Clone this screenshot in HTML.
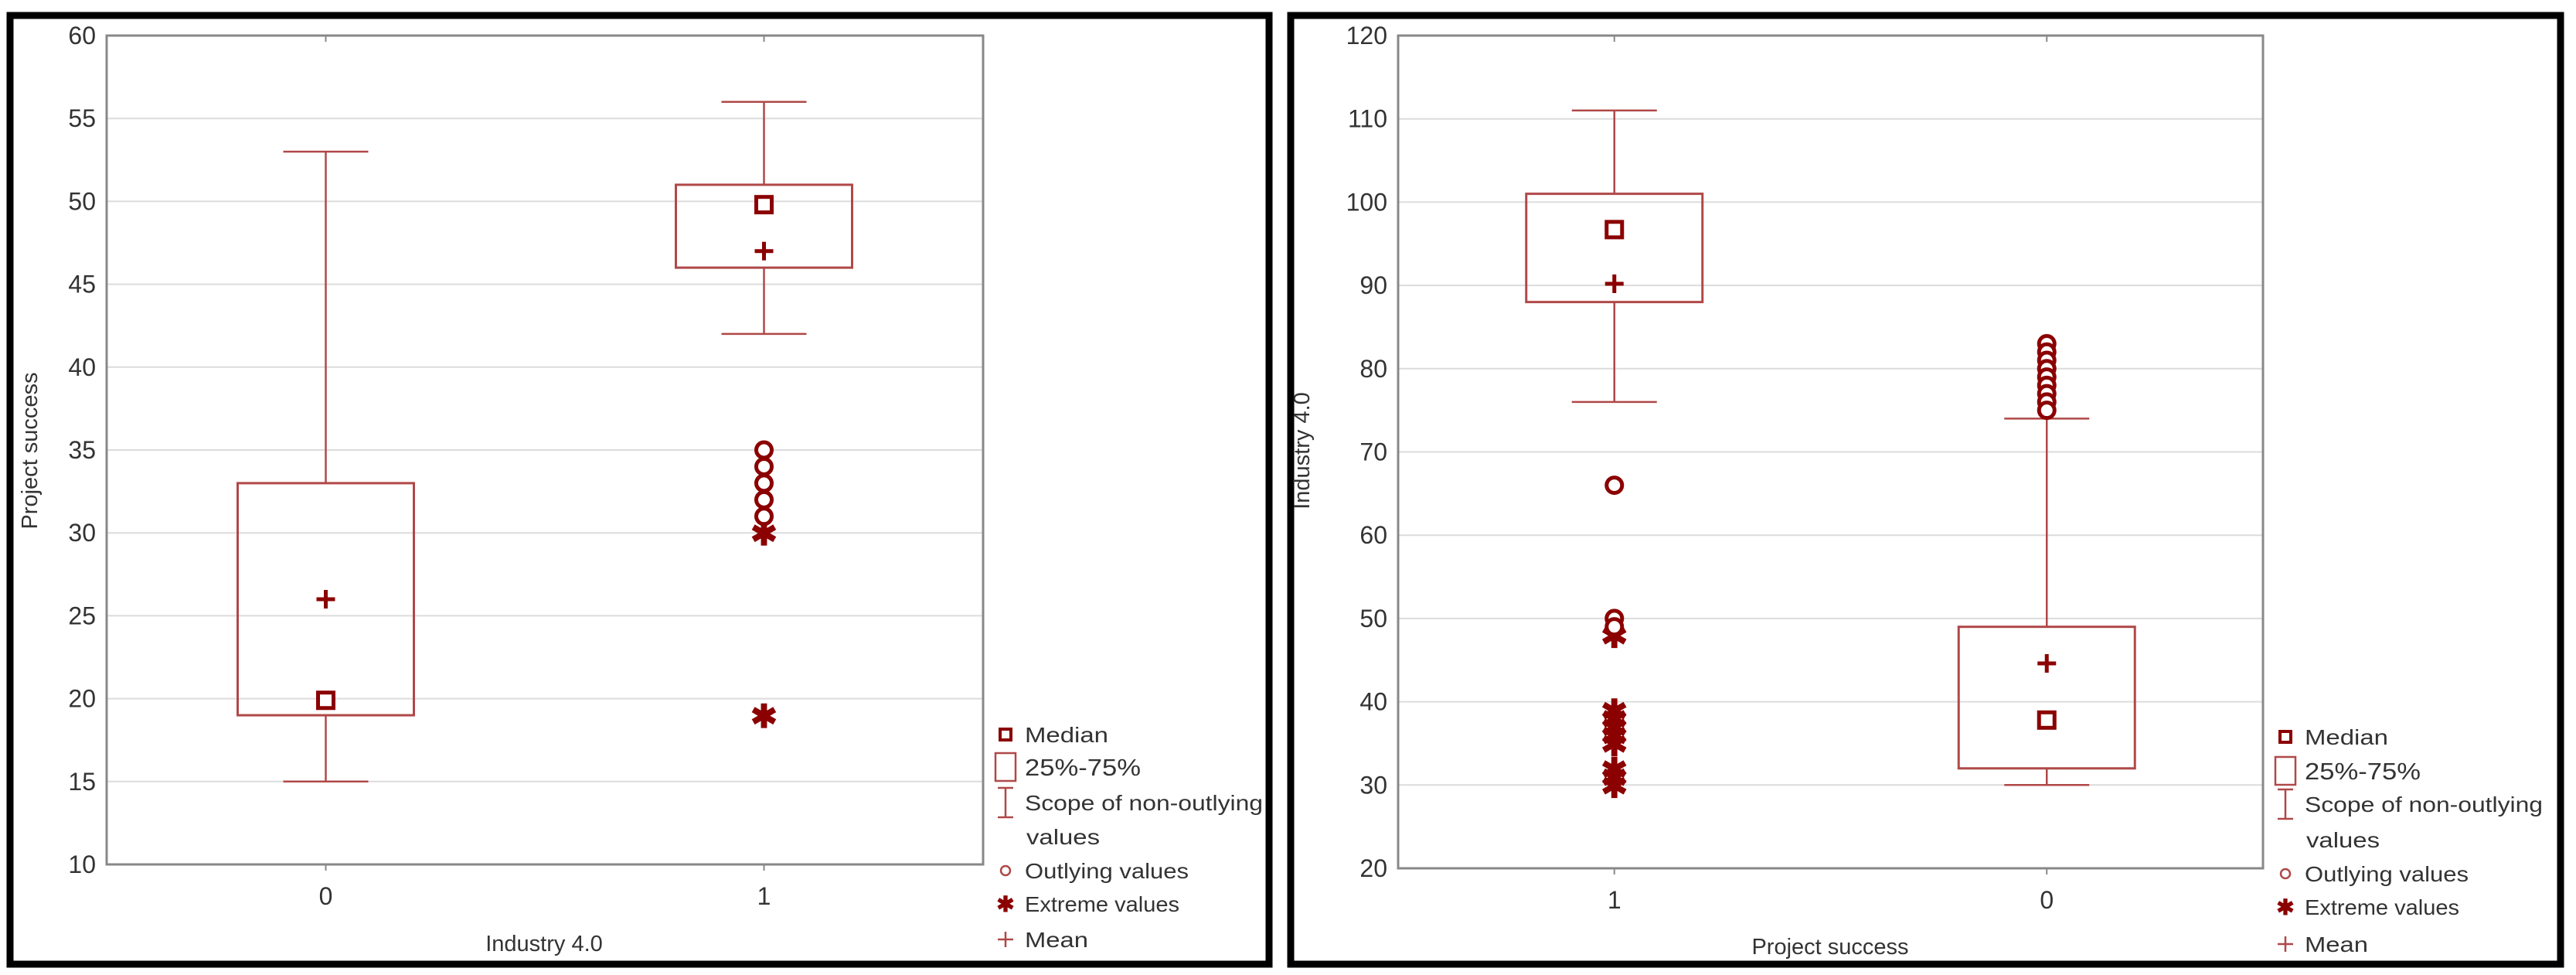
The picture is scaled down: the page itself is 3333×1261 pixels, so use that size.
<!DOCTYPE html>
<html><head><meta charset="utf-8"><style>
html,body{margin:0;padding:0;background:#fff;}
svg{display:block;font-family:"Liberation Sans",sans-serif;}
</style></head><body>
<svg id="root" width="3333" height="1261" viewBox="0 0 3333 1261" xmlns="http://www.w3.org/2000/svg">
<rect x="0" y="0" width="3333" height="1261" fill="#fff"/>
<rect x="13" y="20" width="1629" height="1227" fill="none" stroke="#000" stroke-width="9"/>
<rect x="1670" y="20" width="1643" height="1227" fill="none" stroke="#000" stroke-width="9"/>
</svg>
<script>
// ---- Left chart data ----
const leftCategories = ["0","1"];
const leftQ1 = [19, 46];
const leftQ3 = [33, 51];
const leftWhiskerLow = [15, 42];
const leftWhiskerHigh = [53, 56];
const leftMedian = [19.9, 49.8];
const leftMean = [26, 47];
const leftOutliers = [[], [35, 34, 33, 32, 31]];
const leftExtremes = [[], [30, 19]];
const leftTicks = [10, 15, 20, 25, 30, 35, 40, 45, 50, 55, 60];
// ---- Right chart data ----
const rightCategories = ["1","0"];
const rightQ1 = [88, 32];
const rightQ3 = [101, 49];
const rightWhiskerLow = [76, 30];
const rightWhiskerHigh = [111, 74];
const rightMedian = [96.7, 37.8];
const rightMean = [90.2, 44.6];
const rightOutliers = [[66, 50, 49], [83, 82, 81, 80, 79, 78, 77, 76, 75]];
const rightExtremes = [[48, 39, 38, 37, 36, 35, 32, 31, 30], []];
const rightTicks = [20, 30, 40, 50, 60, 70, 80, 90, 100, 110, 120];

const NS = "http://www.w3.org/2000/svg";
const root = document.getElementById('root');
const DARK = "#8b0000", LINE = "#b04848";
function mk(tag, attrs, parent){const e=document.createElementNS(NS,tag);for(const k in attrs)e.setAttribute(k,attrs[k]);(parent||root).appendChild(e);return e;}

function drawChart(o){
  const g = mk('g',{});
  
  
  const ymin=o.ticks[0], ymax=o.ticks[o.ticks.length-1];
  const Y = v => o.bottom - (v-ymin)/(ymax-ymin)*(o.bottom-o.top);
  const X = i => o.left + (o.right-o.left)*(0.25+0.5*i);
  // grid
  o.ticks.forEach(t=>{
    if(t!==ymin && t!==ymax){
      const gl = mk('line',{x1:o.left,x2:o.right,y1:Y(t),y2:Y(t),stroke:"#dcdcdc","stroke-width":2},g);
      
      
    }
    const tl = mk('text',{x:o.left-14,y:Y(t)+11,"text-anchor":"end","font-size":32,fill:"#333"},g);
    tl.textContent=t;
    
    
  });
  const frame = mk('rect',{x:o.left,y:o.top,width:o.right-o.left,height:o.bottom-o.top,fill:"none",stroke:"#888","stroke-width":3},g);
  
  
  o.cats.forEach((c,i)=>{
    const x=X(i);
    mk('line',{x1:x,x2:x,y1:o.bottom,y2:o.bottom+8,stroke:"#888","stroke-width":2},g);
    mk('line',{x1:x,x2:x,y1:o.top,y2:o.top+8,stroke:"#888","stroke-width":2},g);
    const xl = mk('text',{x:x,y:o.bottom+52,"text-anchor":"middle","font-size":32,fill:"#333"},g);
    xl.textContent=c;
    
    
    const bw=228, cw=110;
    const wh = mk('path',{d:`M${x},${Y(o.q3[i])}V${Y(o.whi[i])}M${x-cw/2},${Y(o.whi[i])}H${x+cw/2}M${x},${Y(o.q1[i])}V${Y(o.wlo[i])}M${x-cw/2},${Y(o.wlo[i])}H${x+cw/2}`,stroke:LINE,"stroke-width":2.5,fill:"none"},g);
    
    
    const bx = mk('rect',{x:x-bw/2,y:Y(o.q3[i]),width:bw,height:Y(o.q1[i])-Y(o.q3[i]),fill:"none",stroke:LINE,"stroke-width":3},g);
    
    
    o.ext[i].forEach(v=>{
      const s = mk('text',{x:x,y:Y(v)+16,"text-anchor":"middle","font-size":42,"font-weight":"bold",fill:DARK},g);
      s.textContent="✱";
      
      
    });
    o.out[i].forEach(v=>{
      const ci = mk('circle',{cx:x,cy:Y(v),r:10,fill:"#fff",stroke:DARK,"stroke-width":5},g);
      
      
    });
    const md = mk('rect',{x:x-10,y:Y(o.med[i])-10,width:20,height:20,fill:"#fff",stroke:DARK,"stroke-width":5},g);
    
    
    const mn = mk('path',{d:`M${x-12},${Y(o.mean[i])}H${x+12}M${x},${Y(o.mean[i])-12}V${Y(o.mean[i])+12}`,stroke:DARK,"stroke-width":5},g);
    
    
  });
  const yt = mk('text',{x:o.ytx,y:o.yty,"text-anchor":"middle","font-size":29,fill:"#333",transform:`rotate(-90 ${o.ytx} ${o.yty})`},g);
  yt.textContent=o.ytitle;
  
  
  const xt = mk('text',{x:o.xtx,y:o.xty,"text-anchor":"middle","font-size":29,fill:"#333"},g);
  xt.textContent=o.xtitle;
  
  
  // legend
  const lg = mk('g',{},g);
  
  
  const mx=o.lgx, tx=o.lgx+25, r=o.lgy;
  mk('rect',{x:mx-7,y:r[0]-7,width:14,height:14,fill:"#fff",stroke:DARK,"stroke-width":4},lg);
  mk('rect',{x:mx-13,y:r[1]-19,width:26,height:36,fill:"none",stroke:LINE,"stroke-width":2.5},lg);
  mk('path',{d:`M${mx-10},${r[2]-19}H${mx+10}M${mx},${r[2]-19}V${r[2]+19}M${mx-10},${r[2]+19}H${mx+10}`,stroke:LINE,"stroke-width":2.5,fill:"none"},lg);
  mk('circle',{cx:mx,cy:r[4],r:6,fill:"none",stroke:LINE,"stroke-width":2.5},lg);
  const es = mk('text',{x:mx,y:r[5]+10,"text-anchor":"middle","font-size":28,"font-weight":"bold",fill:DARK},lg); es.textContent="✱";
  mk('path',{d:`M${mx-10},${r[6]}H${mx+10}M${mx},${r[6]-10}V${r[6]+10}`,stroke:LINE,"stroke-width":2.5},lg);
  const labels=["Median","25%-75%","Scope of non-outlying","values","Outlying values","Extreme values","Mean"];
  const lens=[108,150,308,95,212,200,82];
  labels.forEach((t,k)=>{
    const le = mk('text',{x:k===3?tx+2:tx,y:r[k]+10,"font-size":k===1?31:28,fill:"#333",textLength:lens[k],lengthAdjust:"spacingAndGlyphs"},lg);
    le.textContent=t;
    
    
  });
}

drawChart({name:"left-boxplot",left:138,right:1272,top:46,bottom:1118,ticks:leftTicks,cats:leftCategories,
  q1:leftQ1,q3:leftQ3,wlo:leftWhiskerLow,whi:leftWhiskerHigh,med:leftMedian,mean:leftMean,out:leftOutliers,ext:leftExtremes,
  ytitle:"Project success",ytx:48,yty:583,xtitle:"Industry 4.0",xtx:704,xty:1230,lgx:1301,lgy:[950,993,1038,1082,1126,1169,1215]});
drawChart({name:"right-boxplot",left:1809,right:2928,top:46,bottom:1123,ticks:rightTicks,cats:rightCategories,
  q1:rightQ1,q3:rightQ3,wlo:rightWhiskerLow,whi:rightWhiskerHigh,med:rightMedian,mean:rightMean,out:rightOutliers,ext:rightExtremes,
  ytitle:"Industry 4.0",ytx:1694,yty:583,xtitle:"Project success",xtx:2368,xty:1234,lgx:2957,lgy:[953,998,1040,1086,1130,1173,1221]});
</script>
</body></html>
